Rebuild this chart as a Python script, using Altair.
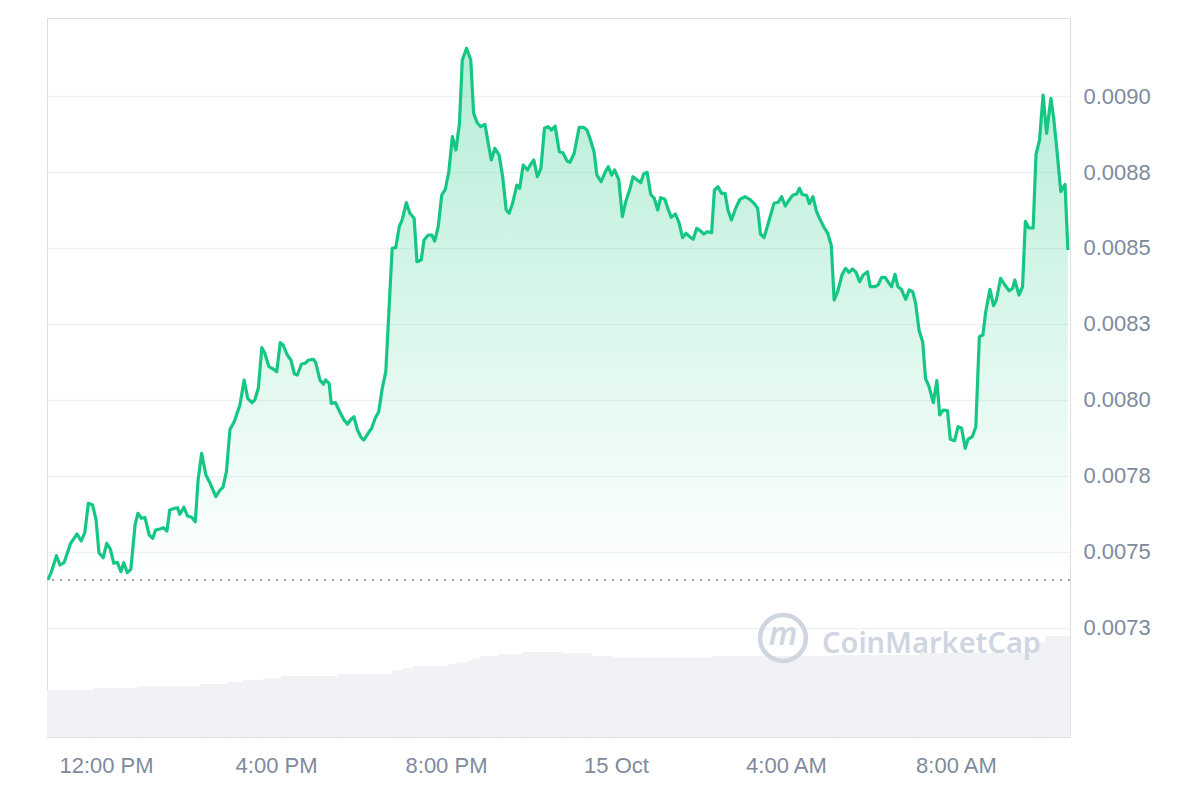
import altair as alt
import pandas as pd

# ---- price series (minutes after 14 Oct 10:38, price in USD) ----
minutes = [
    0, 5, 12, 17, 23, 32, 41, 47, 52, 57,
    63, 68, 72, 78, 83, 88, 93, 98, 103, 107,
    112, 117, 123, 127, 132, 137, 143, 148, 152, 158,
    163, 168, 172, 179, 183, 186, 192, 197, 203, 208,
    212, 217, 223, 229, 237, 243, 247, 252, 257, 263,
    271, 277, 282, 288, 292, 297, 302, 306, 312, 318,
    323, 328, 332, 338, 343, 348, 352, 358, 363, 368,
    375, 378, 384, 389, 392, 397, 400, 406, 412, 418,
    423, 427, 432, 437, 442, 446, 452, 457, 462, 467,
    472, 477, 486, 491, 496, 500, 506, 511, 517, 521,
    527, 531, 537, 542, 546, 551, 556, 561, 566, 571,
    576, 581, 585, 591, 597, 601, 606, 611, 617, 622,
    626, 631, 637, 642, 647, 651, 656, 662, 666, 671,
    677, 681, 686, 691, 696, 701, 706, 711, 716, 722,
    727, 733, 737, 743, 750, 756, 761, 766, 771, 775,
    781, 786, 791, 796, 800, 806, 811, 816, 822, 826,
    832, 837, 841, 846, 851, 856, 861, 865, 871, 876,
    880, 886, 891, 896, 901, 906, 911, 916, 921, 926,
    931, 937, 941, 946, 951, 956, 960, 965, 971, 977,
    984, 991, 997, 1002, 1006, 1011, 1017, 1025, 1031, 1036,
    1041, 1048, 1052, 1057, 1061, 1065, 1071, 1075, 1080, 1085,
    1090, 1096, 1101, 1106, 1110, 1115, 1121, 1126, 1131, 1136,
    1141, 1146, 1151, 1157, 1161, 1168, 1172, 1177, 1182, 1186,
    1191, 1196, 1200, 1205, 1211, 1216, 1221, 1225, 1230, 1235,
    1239, 1244, 1250, 1255, 1259, 1264, 1270, 1274, 1280, 1285,
    1290, 1295, 1299, 1305, 1310, 1315, 1320, 1324, 1330, 1335,
    1339, 1345, 1351, 1357, 1362, 1365, 1371, 1376, 1380, 1385,
    1391, 1395, 1400, 1405, 1410, 1416, 1420, 1425, 1430, 1436, 1440,
]

prices = [
    0.0074079, 0.0074352, 0.0074878, 0.0074572, 0.0074661, 0.0075286, 0.0075592, 0.0075362, 0.0075635, 0.0076602,
    0.0076546, 0.0076053, 0.0074977, 0.0074812, 0.0075286, 0.0075099, 0.0074628, 0.0074661, 0.0074352, 0.0074648,
    0.0074319, 0.0074431, 0.0075888, 0.0076273, 0.0076109, 0.0076128, 0.0075559, 0.0075451, 0.0075724, 0.0075757,
    0.0075799, 0.0075691, 0.0076382, 0.0076438, 0.0076457, 0.0076240, 0.0076470, 0.0076184, 0.0076141, 0.0075997,
    0.0077368, 0.0078247, 0.0077533, 0.0077260, 0.0076819, 0.0077039, 0.0077128, 0.0077641, 0.0079036, 0.0079286,
    0.0079836, 0.0080658, 0.0080056, 0.0079911, 0.0080000, 0.0080385, 0.0081720, 0.0081556, 0.0081095, 0.0081020,
    0.0080931, 0.0081885, 0.0081809, 0.0081480, 0.0081316, 0.0080855, 0.0080822, 0.0081184, 0.0081207, 0.0081316,
    0.0081339, 0.0081227, 0.0080658, 0.0080516, 0.0080658, 0.0080549, 0.0079891, 0.0079911, 0.0079615, 0.0079342,
    0.0079200, 0.0079342, 0.0079450, 0.0079013, 0.0078773, 0.0078684, 0.0078905, 0.0079069, 0.0079398, 0.0079615,
    0.0080385, 0.0080931, 0.0084990, 0.0085010, 0.0085700, 0.0085921, 0.0086490, 0.0086141, 0.0085977, 0.0084549,
    0.0084605, 0.0085263, 0.0085428, 0.0085428, 0.0085230, 0.0085700, 0.0086743, 0.0086931, 0.0087510, 0.0088661,
    0.0088224, 0.0089102, 0.0091184, 0.0091569, 0.0091184, 0.0089431, 0.0089122, 0.0088990, 0.0089069, 0.0088388,
    0.0087895, 0.0088280, 0.0088059, 0.0087345, 0.0086250, 0.0086141, 0.0086470, 0.0087072, 0.0086964, 0.0087730,
    0.0087566, 0.0087730, 0.0087895, 0.0087345, 0.0087622, 0.0088937, 0.0088990, 0.0088882, 0.0089013, 0.0088168,
    0.0088135, 0.0087862, 0.0087819, 0.0088115, 0.0088970, 0.0088970, 0.0088882, 0.0088553, 0.0088168, 0.0087401,
    0.0087181, 0.0087457, 0.0087674, 0.0087401, 0.0087566, 0.0087237, 0.0086030, 0.0086546, 0.0086964, 0.0087345,
    0.0087237, 0.0087148, 0.0087434, 0.0087490, 0.0086766, 0.0086635, 0.0086250, 0.0086655, 0.0086602, 0.0086250,
    0.0086010, 0.0086118, 0.0085832, 0.0085339, 0.0085484, 0.0085372, 0.0085286, 0.0085648, 0.0085569, 0.0085460,
    0.0085536, 0.0085503, 0.0086908, 0.0087016, 0.0086799, 0.0086799, 0.0086250, 0.0085921, 0.0086306, 0.0086602,
    0.0086687, 0.0086602, 0.0086470, 0.0086306, 0.0085460, 0.0085339, 0.0085812, 0.0086470, 0.0086503, 0.0086687,
    0.0086382, 0.0086635, 0.0086743, 0.0086776, 0.0086964, 0.0086760, 0.0086734, 0.0086457, 0.0086687, 0.0086210,
    0.0085944, 0.0085668, 0.0085484, 0.0085082, 0.0083289, 0.0083562, 0.0084112, 0.0084332, 0.0084200, 0.0084309,
    0.0084200, 0.0083891, 0.0084112, 0.0084220, 0.0083727, 0.0083727, 0.0083783, 0.0084036, 0.0084036, 0.0083891,
    0.0083727, 0.0084135, 0.0083727, 0.0083641, 0.0083312, 0.0083618, 0.0083562, 0.0083181, 0.0082280, 0.0081918,
    0.0080714, 0.0080437, 0.0079911, 0.0080635, 0.0079507, 0.0079671, 0.0079648, 0.0078707, 0.0078661, 0.0079122,
    0.0079069, 0.0078411, 0.0078707, 0.0078793, 0.0079122, 0.0082082, 0.0082138, 0.0082905, 0.0083641, 0.0083102,
    0.0083289, 0.0084003, 0.0083783, 0.0083595, 0.0083674, 0.0083947, 0.0083454, 0.0083727, 0.0085878, 0.0085658,
    0.0085658, 0.0088082, 0.0088553, 0.0090033, 0.0088773, 0.0089924, 0.0089266, 0.0088115, 0.0086852, 0.0087095,
    0.0084934,
]

# ---- volume steps (start/end minute, 24h volume in M USD) ----
vol_start = [-2, 64, 126, 215, 254, 275, 304, 330, 409, 486, 500, 515, 565, 577, 592, 600, 610, 635, 669,
             727, 768, 798, 939, 1108, 1231, 1393, 1408]
vol_end = [64, 126, 215, 254, 275, 304, 330, 409, 486, 500, 515, 565, 577, 592, 600, 610, 635, 669, 727,
           768, 798, 939, 1108, 1231, 1393, 1408, 1443]
vol_values = [4.70, 4.87, 5.10, 5.30, 5.50, 5.70, 5.87, 6.10, 6.30, 6.70, 6.87, 7.10, 7.30, 7.47, 7.70,
              7.87, 8.10, 8.30, 8.50, 8.37, 8.10, 7.93, 8.10, 8.20, 8.40, 9.50, 10.10]

y_ticks = [0.00725, 0.0075, 0.00775, 0.008, 0.00825, 0.0085, 0.00875, 0.009]
x_ticks = ["2024-10-14T12:00:00", "2024-10-14T16:00:00", "2024-10-14T20:00:00",
           "2024-10-15T00:00:00", "2024-10-15T04:00:00", "2024-10-15T08:00:00"]

start = pd.Timestamp("2024-10-14 10:38")
price_df = pd.DataFrame({
    "time": [start + pd.Timedelta(minutes=m) for m in minutes],
    "price": prices,
})
vol_df = pd.DataFrame({
    "t0": [start + pd.Timedelta(minutes=m) for m in vol_start],
    "t1": [start + pd.Timedelta(minutes=m) for m in vol_end],
    "volume": vol_values,
})
base_price = prices[0]

GREEN = "#16c784"
LABEL = "#808a9d"
GRID = "#eff2f5"
WM = "#cfd6e2"

x_scale = alt.Scale(domain=["2024-10-14T10:36:40", "2024-10-15T10:41:00"], nice=False)
y_scale = alt.Scale(domain=[0.0068914, 0.0092566], nice=False, zero=False)

x_axis = alt.Axis(
    values=x_ticks,
    labelExpr="hours(datum.value) == 0 ? timeFormat(datum.value, '%-d %b') : timeFormat(datum.value, '%-I:%M %p')",
    grid=False, ticks=False, domain=False, title=None,
    labelColor=LABEL, labelFontSize=22, labelFont="Liberation Sans", labelPadding=18,
)
y_axis = alt.Axis(
    orient="right", values=y_ticks,
    labelExpr="format(datum.value + 1e-9, '.4f')",
    grid=True, gridColor=GRID, gridWidth=1.5,
    ticks=False, domain=False, title=None,
    labelColor=LABEL, labelFontSize=22, labelFont="Liberation Sans", labelPadding=13,
)

volume = alt.Chart(vol_df).mark_rect(color="#f0f2f6", clip=True).encode(
    x=alt.X("t0:T", scale=x_scale, axis=x_axis),
    x2="t1:T",
    y=alt.Y("volume:Q", scale=alt.Scale(domain=[0, 71.9], nice=False), axis=None),
    y2=alt.datum(0),
)

gradient = alt.Gradient(
    gradient="linear",
    stops=[alt.GradientStop(color="rgba(22,199,132,0.32)", offset=0),
           alt.GradientStop(color="rgba(22,199,132,0.0)", offset=1)],
    x1=1, x2=1, y1=0, y2=1,
)

area = alt.Chart(price_df).mark_area(color=gradient, clip=True).encode(
    x=alt.X("time:T", scale=x_scale, axis=x_axis),
    y=alt.Y("price:Q", scale=y_scale, axis=y_axis),
    y2=alt.datum(base_price),
)

baseline = alt.Chart(price_df).mark_rule(
    color="#9aa0ad", strokeDash=[2, 6], strokeWidth=1.6
).encode(y=alt.datum(base_price))

line = alt.Chart(price_df).mark_line(
    color=GREEN, strokeWidth=3.2, strokeJoin="round", clip=True
).encode(
    x=alt.X("time:T", scale=x_scale, axis=x_axis),
    y=alt.Y("price:Q", scale=y_scale, axis=y_axis),
)

price_layers = alt.layer(area, baseline, line)

wm_df = pd.DataFrame({"label": ["CoinMarketCap"], "logo": ["m"]})
wm_text = alt.Chart(wm_df).mark_text(
    align="left", baseline="alphabetic", font="Noto Sans", fontSize=29,
    fontWeight=600, color=WM
).encode(x=alt.value(775), y=alt.value(635), text="label:N")
wm_circle = alt.Chart(wm_df).mark_point(
    shape="circle", filled=False, size=2100, strokeWidth=4.5, color=WM, opacity=1
).encode(x=alt.value(736), y=alt.value(620))
wm_m = alt.Chart(wm_df).mark_text(
    align="center", baseline="middle", font="Noto Sans", fontSize=32, fontStyle="italic",
    fontWeight=600, color=WM
).encode(x=alt.value(736), y=alt.value(617), text="logo:N")

chart = alt.layer(volume, price_layers, wm_circle, wm_m, wm_text).resolve_scale(
    y="independent"
).properties(
    width=1023, height=719,
    autosize=alt.AutoSizeParams(type="none"),
    padding={"left": 39, "top": 10, "right": 110, "bottom": 48},
).configure_view(stroke=GRID, strokeWidth=2).configure(background="white")

chart.save("out.html", embed_options={"renderer": "svg", "actions": False})
